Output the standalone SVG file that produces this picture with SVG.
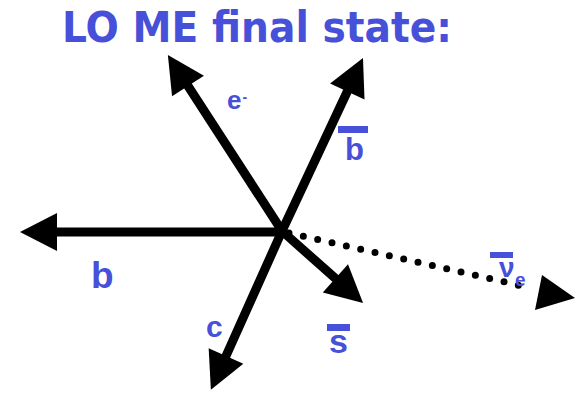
<svg xmlns="http://www.w3.org/2000/svg" width="582" height="393" viewBox="0 0 582 393">
<style>
.title{font-family:"Comic Sans MS","DejaVu Sans",sans-serif;font-weight:bold;fill:#4650d8}
.lbl{font-family:"Liberation Sans",Arial,sans-serif;font-weight:bold;fill:#4650d8}
.bar{fill:#4650d8}
.arr{stroke:#000;stroke-width:9;fill:none;stroke-linecap:round}
.dot{stroke:#000;stroke-width:7;fill:none;stroke-linecap:round;stroke-dasharray:0 14.7}
</style>
<defs>
<marker id="ah" markerUnits="userSpaceOnUse" markerWidth="40" markerHeight="40" refX="0" refY="20" orient="auto" overflow="visible">
<path d="M0,1 L37,20 L0,39 Z" fill="#000"/>
</marker>
</defs>
<rect width="582" height="393" fill="#fff"/>
<text class="title" x="62" y="42" font-size="43" textLength="390" lengthAdjust="spacingAndGlyphs">LO ME final state:</text>
<g id="connectors">
<line class="arr" x1="282" y1="231" x2="188" y2="86" marker-end="url(#ah)"/>
<line class="arr" x1="282" y1="231" x2="347.3" y2="91.5" marker-end="url(#ah)"/>
<line class="arr" x1="282" y1="232" x2="57" y2="232" marker-end="url(#ah)"/>
<line class="arr" x1="282" y1="231" x2="226" y2="356" marker-end="url(#ah)"/>
<line class="arr" x1="282" y1="231" x2="335.4" y2="278.4" marker-end="url(#ah)"/>
<line class="dot" x1="289" y1="233" x2="531" y2="288"/>
<polygon points="575,298 542,275 535,310" fill="#000"/>
</g>
<g id="electron"><text class="lbl" x="227" y="108.5" font-size="26">e<tspan x="242.5" y="102" font-size="14">-</tspan></text></g>
<g id="bbar"><rect class="bar" x="338" y="126" width="30" height="7"/><text class="lbl" x="345" y="159.5" font-size="31">b</text></g>
<g id="b"><text class="lbl" x="91" y="287.5" font-size="37">b</text></g>
<g id="c"><text class="lbl" x="206" y="336.5" font-size="30">c</text></g>
<g id="sbar"><rect class="bar" x="327" y="324" width="23" height="7"/><text class="lbl" x="329" y="352.5" font-size="34">s</text></g>
<g id="nuebar"><rect class="bar" x="490" y="252" width="23" height="6"/><text class="lbl" x="499" y="277" font-size="28">ν</text><text class="lbl" x="515" y="286" font-size="19">e</text></g>
</svg>
